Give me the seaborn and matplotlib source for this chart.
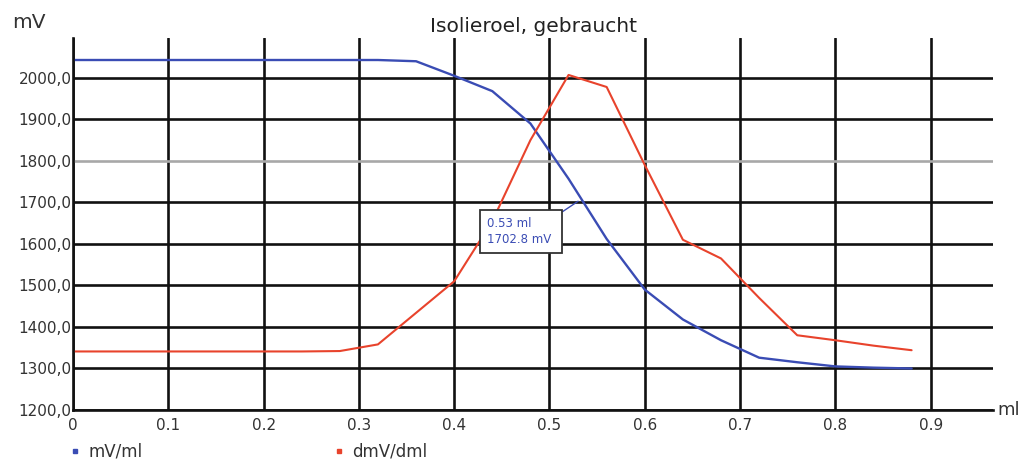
import pandas as pd
import matplotlib.pyplot as plt
import seaborn as sns
from matplotlib.lines import Line2D

### titration data
volume_ml = [0.00, 0.04, 0.08, 0.12, 0.16, 0.20, 0.24, 0.28, 0.32, 0.36, 0.40, 0.44,
             0.48, 0.52, 0.56, 0.60, 0.64, 0.68, 0.72, 0.76, 0.80, 0.84, 0.88]
potential_mv = [2043, 2043, 2043, 2043, 2043, 2043, 2043, 2043, 2043, 2040, 2005, 1968,
                1890, 1757, 1612, 1490, 1418, 1368, 1326, 1315, 1305, 1302, 1300]
derivative_mv = [1341, 1341, 1341, 1341, 1341, 1341, 1341, 1342, 1358, 1434, 1510, 1655,
                 1850, 2007, 1978, 1790, 1610, 1565, 1470, 1380, 1368, 1355, 1344]

series_names = ['mV/ml', 'dmV/dml']
x_ticks = [0, 0.1, 0.2, 0.3, 0.4, 0.5, 0.6, 0.7, 0.8, 0.9]
x_tick_labels = ['0', '0.1', '0.2', '0.3', '0.4', '0.5', '0.6', '0.7', '0.8', '0.9']
y_ticks = [1200, 1300, 1400, 1500, 1600, 1700, 1800, 1900, 2000]
y_tick_labels = ['1200,0', '1300,0', '1400,0', '1500,0', '1600,0',
                 '1700,0', '1800,0', '1900,0', '2000,0']
marker_x, marker_y = 0.53, 1702.8

blue = '#3a4cb4'
red = '#e8432c'

sns.set_style('white')
plt.rcParams['font.family'] = ['DejaVu Sans']

df = pd.DataFrame({'ml': volume_ml, series_names[0]: potential_mv,
                   series_names[1]: derivative_mv})

fig = plt.figure(figsize=(10.29, 4.59), dpi=100)
ax = fig.add_axes([73 / 1029, 49 / 459, 920 / 1029, 372 / 459])

sns.lineplot(data=df, x='ml', y=series_names[0], ax=ax, color=blue, linewidth=1.7, legend=False)
sns.lineplot(data=df, x='ml', y=series_names[1], ax=ax, color=red, linewidth=1.5, legend=False)

ax.set_xlim(0, 0.9654)
ax.set_ylim(1200, 2096)
ax.set_xticks(x_ticks)
ax.set_xticklabels(x_tick_labels)
ax.set_yticks(y_ticks)
ax.set_yticklabels(y_tick_labels)
ax.tick_params(axis='both', length=0, labelsize=11, labelcolor='#333333')
ax.tick_params(axis='x', pad=6)
ax.tick_params(axis='y', pad=1)
ax.set_xlabel('')
ax.set_ylabel('')

ax.grid(True, color='#111111', linewidth=1.9)
ax.set_axisbelow(True)
ax.get_ygridlines()[y_ticks.index(1800)].set_color('#a8a8a8')
for side in ['top', 'right']:
    ax.spines[side].set_visible(False)
for side in ['left', 'bottom']:
    ax.spines[side].set_color('#111111')
    ax.spines[side].set_linewidth(1.9)

### tooltip box
ax.annotate(f'{marker_x:.2f} ml\n{marker_y:.1f} mV ', xy=(marker_x, marker_y),
            xytext=(0.434, 1595), fontsize=8.5, color='#3a4cb4', va='bottom', ha='left',
            linespacing=1.3,
            bbox=dict(boxstyle='square,pad=0.6', fc='white', ec='#333333', lw=1.3),
            arrowprops=dict(arrowstyle='-', color='#3a4cb4', lw=1.0, shrinkA=0, shrinkB=0,
                            relpos=(1.0, 1.0)))

ax.set_title('Isolieroel, gebraucht', fontsize=14.5, color='#222222', pad=4)
fig.text(12 / 1029, 1 - 22 / 459, 'mV', fontsize=14.5, color='#333333', va='center', ha='left')
ax.text(1.005, 0, 'ml', transform=ax.transAxes, fontsize=13, color='#333333',
        va='center', ha='left')

handles = [Line2D([], [], marker='s', ls='none', color=blue, markersize=3.5),
           Line2D([], [], marker='s', ls='none', color=red, markersize=3.5)]
fig.legend(handles, series_names, loc='center left', bbox_to_anchor=(70 / 1029, 1 - 452 / 459),
           ncol=2, frameon=False, fontsize=12, handlelength=0.6, handletextpad=0.5,
           columnspacing=11.5, labelcolor='#333333', borderaxespad=0, borderpad=0)

fig.savefig('out.png', dpi=100)
